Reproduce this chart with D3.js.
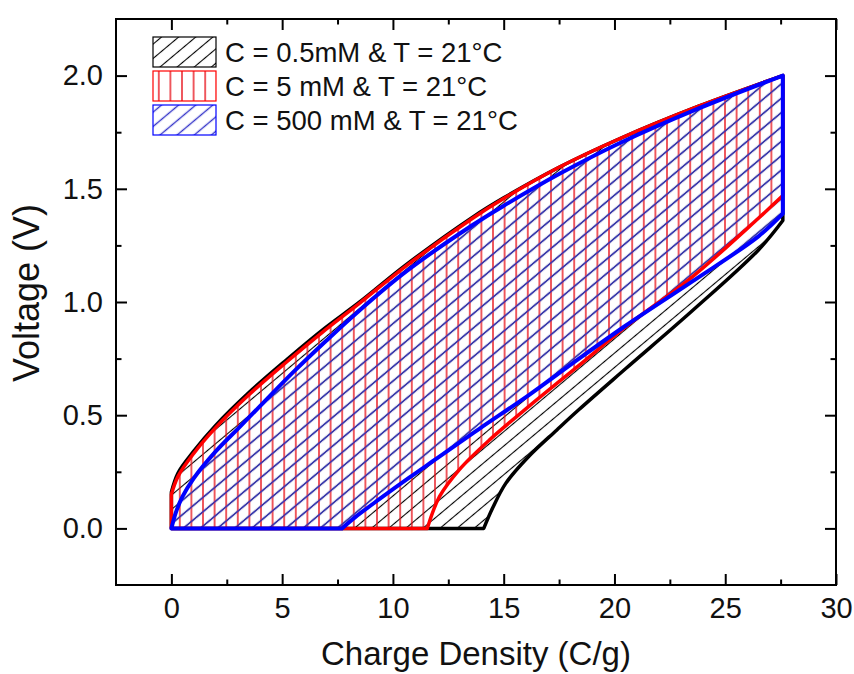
<!DOCTYPE html>
<html>
<head>
<meta charset="utf-8">
<script src="https://cdn.jsdelivr.net/npm/d3@7"></script>
<style>
  body { margin: 0; background: #fff; }
  text { font-family: "Liberation Sans", Arial, sans-serif; fill: #111; }
</style>
</head>
<body>
<svg width="854" height="674"></svg>
<script>
'use strict';

// axis ticks
const xTicks = [0, 5, 10, 15, 20, 25, 30];
const xMinor = [2.5, 7.5, 12.5, 17.5, 22.5, 27.5];
const yTicks = [0, 0.5, 1.0, 1.5, 2.0];
const yMinor = [0.25, 0.75, 1.25, 1.75];

const legendLabels = ['C = 0.5mM & T = 21°C', 'C = 5 mM & T = 21°C', 'C = 500 mM & T = 21°C'];

// [charge density (C/g), voltage (V)] - charging branch (top) and discharging branch (bottom)
const blackUp = [[0, 0.16], [0.3, 0.245], [1, 0.34], [2, 0.455], [3.5, 0.6], [5.2, 0.745], [6.8, 0.875], [8.5, 1.0],
  [10.6, 1.165], [13.6, 1.375], [15, 1.46], [17.5, 1.595], [20.2, 1.72], [23.8, 1.865], [27.6, 2.0]];
const blackDown = [[14.1, 0], [14.5, 0.09], [15.1, 0.2], [16.15, 0.32], [17.4, 0.435], [18.4, 0.525], [20.5, 0.705],
  [23.5, 0.96], [26.5, 1.23], [27.6, 1.36]];

const redUp = [[0, 0.15], [0.3, 0.23], [1, 0.33], [2, 0.445], [3.5, 0.59], [5.2, 0.735], [6.8, 0.865], [8.5, 0.995],
  [10.6, 1.16], [13.6, 1.37], [15, 1.457], [17.5, 1.595], [20.2, 1.72], [23.8, 1.865], [27.6, 2.0]];
const redDown = [[11.55, 0], [12.1, 0.14], [13.0, 0.26], [14.35, 0.39], [16.15, 0.54], [18.4, 0.72], [20.5, 0.89],
  [23.5, 1.11], [26.5, 1.37], [27.6, 1.47]];

const blueUp = [[0, 0], [0.2, 0.07], [0.5, 0.14], [1, 0.22], [2, 0.34], [3, 0.44], [4, 0.54], [5.5, 0.69], [7, 0.83],
  [8.4, 0.955], [10.6, 1.135], [13.6, 1.34], [15, 1.425], [17.5, 1.565], [20.2, 1.70], [23.8, 1.855], [27.6, 2.0]];
const blueDown = [[7.7, 0], [8.3, 0.05], [9.4, 0.13], [10.75, 0.225], [12, 0.31], [13.9, 0.44], [16.15, 0.59],
  [18.4, 0.75], [20.5, 0.895], [23.5, 1.09], [26.5, 1.29], [27.6, 1.39]];

const svg = d3.select('svg');
const pLeft = 116, pRight = 836, pTop = 19, pBottom = 585;

const x = d3.scaleLinear().domain([-2.5, 30]).range([pLeft, pRight]);
const y = d3.scaleLinear().domain([-0.25, 2.25]).range([pBottom, pTop]);

// hatch patterns
const defs = svg.append('defs');
function hatch(id, color, w, spacing, angle) {
  const p = defs.append('pattern')
    .attr('id', id)
    .attr('patternUnits', 'userSpaceOnUse')
    .attr('width', spacing).attr('height', spacing)
    .attr('patternTransform', `rotate(${angle})`);
  p.append('line')
    .attr('x1', spacing / 2).attr('x2', spacing / 2)
    .attr('y1', -1).attr('y2', spacing + 1)
    .attr('stroke', color).attr('stroke-width', w);
}
hatch('hBlack', '#000', 1.1, 11, 50);
hatch('hRed', '#e8141c', 1.4, 11.6, 0);
hatch('hBlue', '#3434c8', 1.4, 11, 50);

const line = d3.line()
  .x(d => x(d[0])).y(d => y(d[1]))
  .curve(d3.curveCatmullRom.alpha(0.5));

function loopPath(up, down) {
  const a = line(up).replace(/^M/, 'L');
  const b = line(down.slice().reverse()).replace(/^M/, 'L');
  return `M${x(0)},${y(0)}` + a + b + 'Z';
}

const series = [
  {up: blackUp, down: blackDown, color: '#000', fill: 'url(#hBlack)', w: 3.5},
  {up: redUp, down: redDown, color: '#ff0000', fill: 'url(#hRed)', w: 3.5},
  {up: blueUp, down: blueDown, color: '#0000ff', fill: 'url(#hBlue)', w: 4}
];

const plot = svg.append('g');
plot.selectAll('path.area')
  .data(series)
  .join('path')
  .attr('class', 'area')
  .attr('d', d => loopPath(d.up, d.down))
  .attr('fill', d => d.fill)
  .attr('stroke', 'none');

plot.selectAll('path.outline')
  .data(series)
  .join('path')
  .attr('class', 'outline')
  .attr('d', d => loopPath(d.up, d.down))
  .attr('fill', 'none')
  .attr('stroke', d => d.color)
  .attr('stroke-width', d => d.w)
  .attr('stroke-linejoin', 'round');

// axes, ticks pointing inward on all four sides
function axis(gen, scale, vals, size, tr, fmt, pad) {
  const g = svg.append('g')
    .attr('transform', tr)
    .call(gen(scale).tickValues(vals).tickSize(-size).tickPadding(pad || 0).tickFormat(fmt || (() => '')));
  g.select('.domain').remove();
  g.selectAll('line').attr('stroke', '#000').attr('stroke-width', 2);
  g.selectAll('text').attr('font-size', 29).attr('font-family', '"Liberation Sans", Arial, sans-serif').attr('fill', '#111');
  return g;
}
axis(d3.axisBottom, x, xTicks, 11, `translate(0,${pBottom})`, d3.format('d'), 12);
axis(d3.axisBottom, x, xMinor, 5.5, `translate(0,${pBottom})`);
axis(d3.axisTop, x, xTicks, 11, `translate(0,${pTop})`);
axis(d3.axisTop, x, xMinor, 5.5, `translate(0,${pTop})`);
axis(d3.axisLeft, y, yTicks, 11, `translate(${pLeft},0)`, d3.format('.1f'), 13);
axis(d3.axisLeft, y, yMinor, 5.5, `translate(${pLeft},0)`);
axis(d3.axisRight, y, yTicks, 11, `translate(${pRight},0)`);
axis(d3.axisRight, y, yMinor, 5.5, `translate(${pRight},0)`);

svg.append('rect')
  .attr('x', pLeft).attr('y', pTop)
  .attr('width', pRight - pLeft).attr('height', pBottom - pTop)
  .attr('fill', 'none').attr('stroke', '#000').attr('stroke-width', 2);

// axis titles
svg.append('text')
  .attr('x', (pLeft + pRight) / 2).attr('y', 665)
  .attr('text-anchor', 'middle').attr('font-size', 33)
  .text('Charge Density (C/g)');
svg.append('text')
  .attr('transform', 'translate(39,293) rotate(-90)')
  .attr('text-anchor', 'middle').attr('font-size', 36)
  .text('Voltage (V)');

// legend
const legend = svg.append('g').selectAll('g')
  .data(series)
  .join('g')
  .attr('transform', (d, i) => `translate(153,${37 + i * 34})`);
legend.append('rect')
  .attr('width', 63).attr('height', 30)
  .attr('fill', d => d.fill)
  .attr('stroke', d => d.color).attr('stroke-width', 1.2);
legend.append('text')
  .attr('x', 72).attr('y', 15).attr('dy', '0.35em')
  .attr('font-size', 27.5)
  .text((d, i) => legendLabels[i]);
</script>
</body>
</html>
